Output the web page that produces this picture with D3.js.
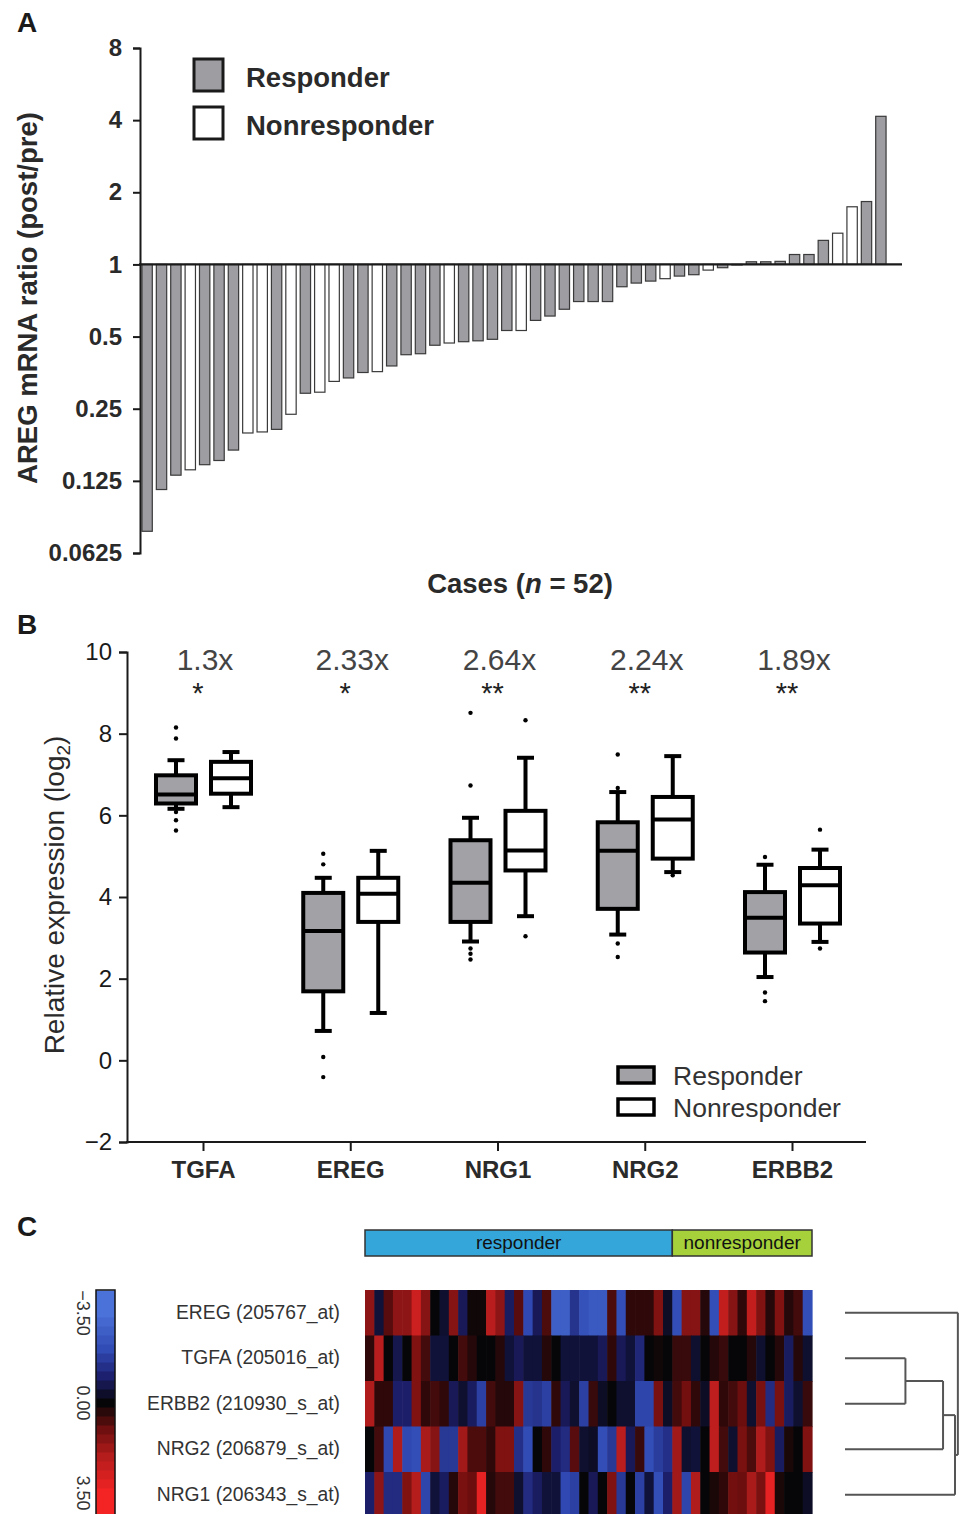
<!DOCTYPE html>
<html>
<head>
<meta charset="utf-8">
<script src="https://cdn.jsdelivr.net/npm/d3@7"></script>
<style>
    body { margin: 0; background: #fff; }
    svg { display: block; font-family: "Liberation Sans", Arial, sans-serif; }
</style>
</head>
<body>
<svg id="fig" width="959" height="1514"></svg>
<script>
/*global d3 */

// ---- panel A: AREG post/pre ratio per case, sorted ----
var caseRatio = [0.077, 0.115, 0.132, 0.139, 0.146, 0.152, 0.168, 0.198, 0.200, 0.205,
                 0.237, 0.290, 0.293, 0.325, 0.336, 0.354, 0.357, 0.377, 0.420, 0.424,
                 0.460, 0.470, 0.476, 0.480, 0.487, 0.530, 0.530, 0.584, 0.609, 0.650,
                 0.700, 0.700, 0.700, 0.807, 0.836, 0.852, 0.872, 0.894, 0.906, 0.947,
                 0.969, 0.995, 1.026, 1.026, 1.030, 1.100, 1.100, 1.260, 1.350, 1.740,
                 1.830, 4.150];
// 1 = responder, 0 = nonresponder
var caseResp = [1, 1, 1, 0, 1, 1, 1, 0, 0, 1,
                0, 1, 0, 0, 1, 1, 0, 1, 1, 1,
                1, 0, 1, 1, 1, 1, 0, 1, 1, 1,
                1, 1, 1, 1, 1, 1, 0, 1, 1, 0,
                1, 1, 1, 1, 1, 1, 1, 1, 0, 0,
                1, 1];
var ratioTicks = [8, 4, 2, 1, 0.5, 0.25, 0.125, 0.0625];
var ratioTickLabels = ["8", "4", "2", "1", "0.5", "0.25", "0.125", "0.0625"];

// ---- panel B: box plot summaries [lowWhisker, q1, median, q3, highWhisker] ----
var genes = ["TGFA", "EREG", "NRG1", "NRG2", "ERBB2"];
var groups = ["Responder", "Nonresponder"];
var boxResp = [[6.16, 6.29, 6.51, 6.98, 7.35],
               [0.72, 1.69, 3.17, 4.10, 4.47],
               [2.91, 3.39, 4.35, 5.39, 5.94],
               [3.08, 3.71, 5.13, 5.83, 6.57],
               [2.04, 2.64, 3.49, 4.12, 4.79]];
var boxNonresp = [[6.20, 6.53, 6.91, 7.31, 7.55],
                  [1.16, 3.39, 4.08, 4.47, 5.13],
                  [3.53, 4.65, 5.14, 6.11, 7.41],
                  [4.61, 4.94, 5.90, 6.45, 7.45],
                  [2.90, 3.35, 4.29, 4.71, 5.16]];
var outResp = [[8.15, 7.88, 6.08, 5.88, 5.63],
               [5.06, 4.80, 0.08, -0.41],
               [8.51, 6.73, 2.74, 2.61, 2.47],
               [7.49, 6.67, 2.86, 2.53],
               [4.98, 1.66, 1.45]];
var outNonresp = [[], [], [8.33, 3.04], [4.53], [5.65, 2.74]];
var foldLabels = ["1.3x", "2.33x", "2.64x", "2.24x", "1.89x"];
var sigLabels = ["*", "*", "**", "**", "**"];
var exprTicks = [-2, 0, 2, 4, 6, 8, 10];

// ---- panel C: heatmap (rows = probes, 48 samples; 33 responders then 15 nonresponders) ----
var probes = ["EREG (205767_at)", "TGFA (205016_at)", "ERBB2 (210930_s_at)",
              "NRG2 (206879_s_at)", "NRG1 (206343_s_at)"];
var nResponders = 33;
var hmEREG = [1.5, -0.5, 0.8, 1.5, 1.5, 2.6, 1.4, 0, -0.4, 1.4, -0.8, 0.1, 0.1, 2.2, 1.5, -0.9,
              0.8, -2, -0.8, 0.7, -2.8, -2.8, -1.5, -2.3, -2.6, -2.6, 0.7, -2.2, 0.4, 0.4, 0.4, 1.3,
              -0.3, -2.2, 1.4, 1.4, 0.3, -2.2, 2.4, 1.4, 0.4, 2.4, 1.3, 0.3, 1.3, 0.3, 0.6, -2.2];
var hmTGFA = [0.4, 2.2, 0, -0.7, 0, 1.3, 0.6, -0.5, -0.5, 0, 0.6, 0.3, 0, 0, 0.3, -0.5,
              -0.8, -0.5, -0.5, 0.3, 0, -0.5, -0.5, -0.5, -0.5, -0.8, 0.4, -0.8, -0.5, -1.2, 0, 0.1,
              0, 0.5, 0.5, -0.4, 0, 0.3, 0.5, 0, 0, 0.3, -0.4, 0, 0.3, -0.9, 0.3, -0.4];
var hmERBB2 = [2.0, 0.4, 0.4, -1.0, -1.0, 1.3, 0.4, 0.6, 0.4, -0.8, -0.4, -0.9, -1.8, 0.6, 0.3, 0.3,
               1.4, -1.6, -1.5, -1.8, 0.4, -0.8, -0.4, -1.8, 0.5, -0.3, 0, -0.4, -0.4, -1.9, -1.9, 1.2,
               -0.3, 0.6, 1.1, 0.4, -0.3, 2.3, 0.4, 0.6, 1.0, -0.4, 1.2, -1.3, 1.2, -0.9, -0.4, 0.5];
var hmNRG2 = [0, 0.6, -2.0, 2.0, -2.0, -2.2, 1.9, 1.4, -1.6, -1.6, 1.8, 0.7, 0.7, 0.4, 1.3, 1.3,
              -1.4, -2.1, 0, 0.4, -1.0, -1.3, 0.8, -0.4, -0.3, -2.2, -1.6, 2.2, -0.8, 0.5, -2.2, -1.7,
              -1.4, 1.8, -0.4, -0.5, 0, 2.3, 0.6, -0.4, 1.2, 0.7, 2.0, 1.3, -0.9, 0.2, 0, 1.3];
var hmNRG1 = [-1.0, 1.5, -1.3, -1.3, 1.3, 2.1, -1.9, -0.5, -0.9, 0.3, 1.2, 1.0, 3.2, 0.3, 0.6, 0.6,
              -0.4, -1.3, -0.9, -0.5, -0.5, -2.0, -1.8, 0, -0.8, 0, 1.3, -1.6, 0, -1.8, -0.5, -2.2,
              -1.0, 1.8, -1.9, 2.0, 0, 0.2, 0.4, 1.1, 1.0, 1.9, 1.2, 3.2, 0.2, 0, 0, -0.3];
var colorTicks = [-3.5, 0, 3.5];
var colorTickLabels = ["\u22123.50", "0.00", "3.50"];
// dendrogram: leaves are row indices, h = merge height (0..1)
var dendro = {h: 0.99, children: [
    {leaf: 0},
    {h: 0.965, children: [
        {h: 0.86, children: [
            {h: 0.53, children: [{leaf: 1}, {leaf: 2}]},
            {leaf: 3}]},
        {leaf: 4}]}]};


var svg = d3.select("#fig"),
    GRAY = "#9d9da2",
    DARK = "#1a1a1a";

function panelLetter (txt, x, y) {
    svg.append("text").attr("x", x).attr("y", y)
        .attr("font-size", 28).attr("font-weight", "bold").attr("fill", DARK)
        .text(txt);
}

function styleAxis (g, fsize, weight) {
    g.select(".domain").attr("stroke", DARK).attr("stroke-width", 2);
    g.selectAll(".tick line").attr("stroke", DARK).attr("stroke-width", 2);
    g.selectAll(".tick text").attr("fill", DARK).attr("font-size", fsize)
        .attr("font-weight", weight)
        .attr("font-family", "'Liberation Sans', Arial, sans-serif");
}


// ================= panel A =================
function drawPanelA () {
    var ya, xa, base, g, leg;
    ya = d3.scaleLog().base(2).domain([0.0625, 8]).range([553, 48]);
    xa = d3.scaleBand().domain(d3.range(caseRatio.length))
        .range([140.5, 887.5]).paddingInner(0.28).paddingOuter(0.1);
    base = ya(1);
    panelLetter("A", 17, 32);

    svg.append("g").selectAll("rect")
        .data(caseRatio)
        .enter().append("rect")
        .attr("x", function (d, i) { return xa(i); })
        .attr("width", xa.bandwidth())
        .attr("y", function (d) { return Math.min(ya(d), base); })
        .attr("height", function (d) { return Math.abs(ya(d) - base); })
        .attr("fill", function (d, i) { return caseResp[i] ? GRAY : "#fff"; })
        .attr("stroke", "#3a3a3a").attr("stroke-width", 1.2);

    g = svg.append("g").attr("transform", "translate(140,0)")
        .call(d3.axisLeft(ya).tickValues(ratioTicks).tickSizeOuter(0).tickSize(7)
              .tickFormat(function (d, i) { return ratioTickLabels[i]; }));
    styleAxis(g, 24, "bold");
    g.selectAll(".tick text").attr("x", -18).attr("fill", "#2a2a2a");

    svg.append("line").attr("x1", 139).attr("x2", 902)
        .attr("y1", base).attr("y2", base)
        .attr("stroke", DARK).attr("stroke-width", 2.2);

    svg.append("text")
        .attr("transform", "translate(37,298) rotate(-90)")
        .attr("text-anchor", "middle").attr("font-size", 27.5).attr("font-weight", "bold")
        .attr("fill", "#2a2a2a").text("AREG mRNA ratio (post/pre)");

    svg.append("text").attr("x", 520).attr("y", 593)
        .attr("text-anchor", "middle").attr("font-size", 27.5).attr("font-weight", "bold")
        .attr("fill", "#2a2a2a")
        .call(function (t) {
            t.append("tspan").text("Cases (");
            t.append("tspan").attr("font-style", "italic").text("n");
            t.append("tspan").text(" = 52)");
        });

    leg = svg.append("g").selectAll("g")
        .data(groups)
        .enter().append("g")
        .attr("transform", function (d, i) {
            return "translate(194," + (59 + i * 48) + ")"; });
    leg.append("rect").attr("width", 29).attr("height", 32)
        .attr("fill", function (d, i) { return i === 0 ? GRAY : "#fff"; })
        .attr("stroke", DARK).attr("stroke-width", 3);
    leg.append("text").attr("x", 52).attr("y", 28)
        .attr("font-size", 27.5).attr("font-weight", "bold").attr("fill", "#2a2a2a")
        .text(function (d) { return d; });
}


// ================= panel B =================
function drawPanelB () {
    var yb, xb, xg, g, boxes, leg, yl, bw = 40, cap = 17;
    yb = d3.scaleLinear().domain([-2, 10]).range([1142, 652]);
    xb = d3.scalePoint().domain(genes).range([203, 792]);
    xg = d3.scalePoint().domain(groups).range([-27, 28]);
    panelLetter("B", 17, 634);

    g = svg.append("g").attr("transform", "translate(127,0)")
        .call(d3.axisLeft(yb).tickValues(exprTicks).tickSizeOuter(0).tickSize(8)
              .tickFormat(function (d) { return d < 0 ? "\u2212" + Math.abs(d) : d; }));
    styleAxis(g, 24, "normal");
    g.selectAll(".tick text").attr("x", -15);

    g = svg.append("g").attr("transform", "translate(0,1142)")
        .call(d3.axisBottom(xb).tickSizeOuter(0).tickSize(9));
    g.select(".domain").remove();
    g.selectAll(".tick line").attr("stroke", DARK).attr("stroke-width", 2);
    g.selectAll(".tick text").attr("fill", "#2a2a2a").attr("font-size", 24)
        .attr("font-weight", "bold").attr("y", 36).attr("dy", 0)
        .attr("font-family", "'Liberation Sans', Arial, sans-serif");
    svg.append("line").attr("x1", 126).attr("x2", 866)
        .attr("y1", 1142).attr("y2", 1142)
        .attr("stroke", DARK).attr("stroke-width", 2);

    yl = svg.append("text")
        .attr("transform", "translate(64,895) rotate(-90)")
        .attr("text-anchor", "middle").attr("font-size", 28).attr("fill", "#2a2a2a");
    yl.append("tspan").text("Relative expression (log");
    yl.append("tspan").attr("font-size", 19).attr("dy", 6).text("2");
    yl.append("tspan").attr("dy", -6).text(")");

    boxes = [];
    genes.forEach(function (gene, i) {
        boxes.push({gene: gene, grp: groups[0], s: boxResp[i], out: outResp[i]});
        boxes.push({gene: gene, grp: groups[1], s: boxNonresp[i], out: outNonresp[i]});
    });

    g = svg.append("g").selectAll("g")
        .data(boxes)
        .enter().append("g")
        .attr("transform", function (d) {
            return "translate(" + (xb(d.gene) + xg(d.grp)) + ",0)"; });
    g.append("line").attr("x1", 0).attr("x2", 0)
        .attr("y1", function (d) { return yb(d.s[0]); })
        .attr("y2", function (d) { return yb(d.s[4]); })
        .attr("stroke", "#000").attr("stroke-width", 4);
    g.selectAll(".cap")
        .data(function (d) { return [d.s[0], d.s[4]]; })
        .enter().append("line")
        .attr("x1", -cap / 2).attr("x2", cap / 2)
        .attr("y1", function (v) { return yb(v); })
        .attr("y2", function (v) { return yb(v); })
        .attr("stroke", "#000").attr("stroke-width", 4);
    g.append("rect").attr("x", -bw / 2).attr("width", bw)
        .attr("y", function (d) { return yb(d.s[3]); })
        .attr("height", function (d) { return yb(d.s[1]) - yb(d.s[3]); })
        .attr("fill", function (d) { return d.grp === groups[0] ? "#a2a2a6" : "#fff"; })
        .attr("stroke", "#000").attr("stroke-width", 4);
    g.append("line").attr("x1", -bw / 2).attr("x2", bw / 2)
        .attr("y1", function (d) { return yb(d.s[2]); })
        .attr("y2", function (d) { return yb(d.s[2]); })
        .attr("stroke", "#000").attr("stroke-width", 4);
    g.selectAll("circle")
        .data(function (d) { return d.out; })
        .enter().append("circle")
        .attr("cx", 0).attr("cy", function (v) { return yb(v); })
        .attr("r", 2.2).attr("fill", "#000");

    svg.append("g").selectAll("text")
        .data(foldLabels)
        .enter().append("text")
        .attr("x", function (d, i) { return xb(genes[i]) + 2; })
        .attr("y", 670).attr("text-anchor", "middle")
        .attr("font-size", 30).attr("fill", "#444")
        .text(function (d) { return d; });
    svg.append("g").selectAll("text")
        .data(sigLabels)
        .enter().append("text")
        .attr("x", function (d, i) { return xb(genes[i]) - 5; })
        .attr("y", 703).attr("text-anchor", "middle")
        .attr("font-size", 29).attr("fill", "#222")
        .text(function (d) { return d; });

    leg = svg.append("g").selectAll("g")
        .data(groups)
        .enter().append("g")
        .attr("transform", function (d, i) {
            return "translate(618," + (1067 + i * 32) + ")"; });
    leg.append("rect").attr("width", 36).attr("height", 16)
        .attr("fill", function (d, i) { return i === 0 ? "#a2a2a6" : "#fff"; })
        .attr("stroke", "#000").attr("stroke-width", 3.5);
    leg.append("text").attr("x", 55).attr("y", 18)
        .attr("font-size", 26.5).attr("fill", "#333")
        .text(function (d) { return d; });
}


// ================= panel C =================
function drawPanelC () {
    var rows, xc, yc, color, g, cb, cbScale, steps, leafX, hx;
    rows = [hmEREG, hmTGFA, hmERBB2, hmNRG2, hmNRG1];
    xc = d3.scaleBand().domain(d3.range(hmEREG.length)).range([365, 812]);
    yc = d3.scaleBand().domain(d3.range(probes.length)).range([1290, 1517.5]);
    color = d3.scaleLinear()
        .domain([-3.5, -2, -1, 0, 1, 2, 3.5])
        .range(["#4a72d8", "#3049b2", "#1c1e6a", "#060608", "#6c0e0e", "#b01c1c", "#f52424"])
        .clamp(true);
    panelLetter("C", 17, 1236);

    // group bar
    g = svg.append("g");
    g.append("rect").attr("x", xc(0)).attr("y", 1230)
        .attr("width", xc(nResponders) - xc(0)).attr("height", 26)
        .attr("fill", "#35a6da").attr("stroke", "#333").attr("stroke-width", 1.5);
    g.append("rect").attr("x", xc(nResponders)).attr("y", 1230)
        .attr("width", 812 - xc(nResponders)).attr("height", 26)
        .attr("fill", "#a6d13a").attr("stroke", "#333").attr("stroke-width", 1.5);
    g.append("text").attr("x", (xc(0) + xc(nResponders)) / 2).attr("y", 1249)
        .attr("text-anchor", "middle").attr("font-size", 19).attr("fill", "#111")
        .text("responder");
    g.append("text").attr("x", (xc(nResponders) + 812) / 2).attr("y", 1249)
        .attr("text-anchor", "middle").attr("font-size", 19).attr("fill", "#111")
        .text("nonresponder");

    // cells
    g = svg.append("g").selectAll("g")
        .data(rows)
        .enter().append("g")
        .attr("transform", function (d, r) { return "translate(0," + yc(r) + ")"; });
    g.selectAll("rect")
        .data(function (d) { return d; })
        .enter().append("rect")
        .attr("x", function (d, c) { return xc(c); })
        .attr("width", xc.bandwidth() + 0.6)
        .attr("height", yc.bandwidth() + 0.6)
        .attr("fill", function (d) { return color(d); });

    // probe labels
    svg.append("g").selectAll("text")
        .data(probes)
        .enter().append("text")
        .attr("x", 340).attr("y", function (d, r) { return yc(r) + yc.bandwidth() / 2 + 6; })
        .attr("text-anchor", "end").attr("font-size", 19.3).attr("fill", "#333")
        .text(function (d) { return d; });

    // colour key
    cbScale = d3.scaleLinear().domain([-3.5, 3.5]).range([1313, 1493]);
    steps = d3.range(-4.375, 4.4, 0.35);
    cb = svg.append("g");
    cb.selectAll("rect")
        .data(steps)
        .enter().append("rect")
        .attr("x", 96).attr("width", 19)
        .attr("y", function (d) { return Math.max(1290, cbScale(d)); })
        .attr("height", function (d) {
            return cbScale(d + 0.35) - Math.max(1290, cbScale(d)) + 0.5; })
        .attr("fill", function (d) { return color(d + 0.175); });
    cb.append("rect").attr("x", 96).attr("y", 1290).attr("width", 19).attr("height", 240)
        .attr("fill", "none").attr("stroke", "#111").attr("stroke-width", 1.5);
    cb.selectAll("text")
        .data(colorTicks)
        .enter().append("text")
        .attr("transform", function (d) {
            return "translate(77," + cbScale(d) + ") rotate(90)"; })
        .attr("text-anchor", "middle").attr("font-size", 18).attr("fill", "#333")
        .text(function (d, i) { return colorTickLabels[i]; });

    // dendrogram
    hx = d3.scaleLinear().domain([0, 1]).range([845, 959]);
    leafX = hx(0);
    function layout (node) {
        if(node.leaf !== undefined) {
            node.x = leafX;
            node.y = yc(node.leaf) + yc.bandwidth() / 2;
            return; }
        node.children.forEach(layout);
        node.x = hx(node.h);
        node.y = d3.mean(node.children, function (c) { return c.y; });
    }
    layout(dendro);
    g = svg.append("g").attr("stroke", "#555").attr("stroke-width", 2).attr("fill", "none");
    function drawNode (node) {
        if(!node.children) {
            return; }
        node.children.forEach(function (c) {
            g.append("line").attr("x1", c.x).attr("x2", node.x)
                .attr("y1", c.y).attr("y2", c.y);
            drawNode(c);
        });
        g.append("line").attr("x1", node.x).attr("x2", node.x)
            .attr("y1", d3.min(node.children, function (c) { return c.y; }))
            .attr("y2", d3.max(node.children, function (c) { return c.y; }));
    }
    drawNode(dendro);
}


drawPanelA();
drawPanelB();
drawPanelC();
</script>
</body>
</html>
